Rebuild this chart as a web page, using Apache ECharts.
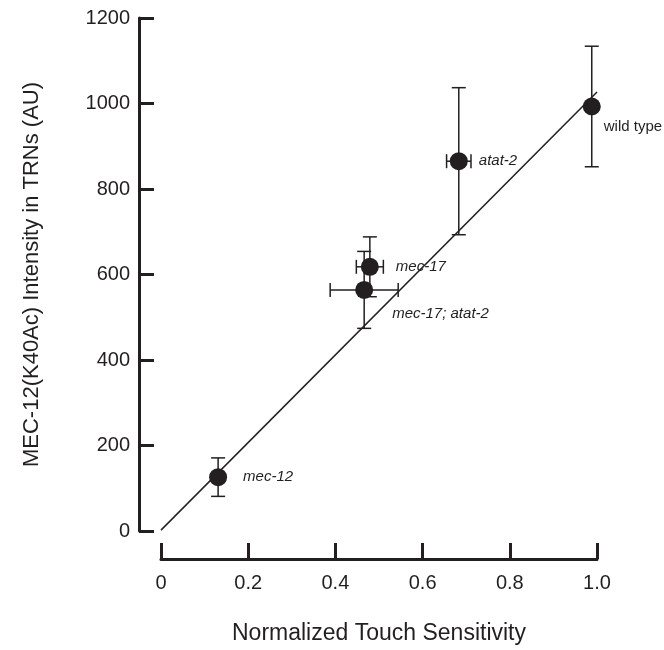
<!DOCTYPE html>
<html>
<head>
<meta charset="utf-8">
<script src="https://cdn.jsdelivr.net/npm/echarts@6/dist/echarts.min.js"></script>
<style>html,body{margin:0;padding:0;background:#fff;}#c{width:664px;height:650px;}</style>
</head>
<body>
<div id="c"></div>
<script>
// ---- data ----
const strainNames = ['mec-12', 'mec-17; atat-2', 'mec-17', 'atat-2', 'wild type'];
const touchSens   = [0.131, 0.466, 0.479, 0.683, 0.988];
const intensity   = [126, 564, 618, 865, 993];
const touchErr    = [0, 0.078, 0.031, 0.028, 0];
const intensityErr= [45, 90, 70, 172, 141];
const fitX = [0, 1.0];
const fitY = [2, 1027];
const xTicks = [0, 0.2, 0.4, 0.6, 0.8, 1.0];
const yTicks = [0, 200, 400, 600, 800, 1000, 1200];

// ---- styles (not data) ----
const labelOffsets = {
  'mec-12': [16, 0],
  'mec-17; atat-2': [19, 24],
  'mec-17': [17, 0],
  'atat-2': [11, 0],
  'wild type': [3, 20]
};
const italicNames = {'mec-12':1,'mec-17; atat-2':1,'mec-17':1,'atat-2':1};

const ink = '#231f20';
const chart = echarts.init(document.getElementById('c'), null, {renderer: 'canvas'});

const errData = strainNames.map((n, i) => [touchSens[i], intensity[i], touchErr[i], intensityErr[i]]);
const capHalf = 7;

const option = {
  animation: false,
  backgroundColor: '#fff',
  textStyle: {fontFamily: 'Liberation Sans, Arial, sans-serif'},
  grid: {left: 161, right: 67, top: 18, bottom: 117},
  xAxis: {
    type: 'value', min: xTicks[0], max: xTicks[xTicks.length - 1], interval: 0.2,
    offset: 28,
    name: 'Normalized Touch Sensitivity', nameLocation: 'middle', nameGap: 63,
    nameMoveOverlap: false,
    nameTextStyle: {fontSize: 23, color: ink, fontFamily: 'Liberation Sans'},
    axisLine: {show: true, onZero: false, lineStyle: {color: ink, width: 3}},
    axisTick: {show: true, inside: true, length: 16, lineStyle: {color: ink, width: 3}},
    axisLabel: {fontSize: 20, color: ink, margin: 14, fontFamily: 'Liberation Sans',
      formatter: v => (v === 0 ? '0' : v.toFixed(1))},
    splitLine: {show: false}
  },
  yAxis: {
    type: 'value', min: yTicks[0], max: yTicks[yTicks.length - 1], interval: 200,
    offset: 22,
    name: 'MEC-12(K40Ac) Intensity in TRNs (AU)', nameLocation: 'middle', nameGap: 96,
    nameMoveOverlap: false,
    nameTextStyle: {fontSize: 22, color: ink, fontFamily: 'Liberation Sans'},
    axisLine: {show: true, onZero: false, lineStyle: {color: ink, width: 3}},
    axisTick: {show: true, inside: true, length: 15, lineStyle: {color: ink, width: 3}},
    axisLabel: {fontSize: 20, color: ink, margin: 9, fontFamily: 'Liberation Sans',
      formatter: v => String(v)},
    splitLine: {show: false}
  },
  series: [
    {
      type: 'line',
      data: fitX.map((x, i) => [x, fitY[i]]),
      symbol: 'none',
      lineStyle: {color: ink, width: 1.5},
      z: 3
    },
    {
      type: 'custom',
      data: errData,
      renderItem: function (params, api) {
        const x = api.value(0), y = api.value(1), ex = api.value(2), ey = api.value(3);
        const children = [];
        const st = {stroke: ink, lineWidth: 1.5};
        if (ey > 0) {
          const top = api.coord([x, y + ey]);
          const bot = api.coord([x, y - ey]);
          children.push({type: 'line', shape: {x1: top[0], y1: top[1], x2: bot[0], y2: bot[1]}, style: st});
          children.push({type: 'line', shape: {x1: top[0] - capHalf, y1: top[1], x2: top[0] + capHalf, y2: top[1]}, style: st});
          children.push({type: 'line', shape: {x1: bot[0] - capHalf, y1: bot[1], x2: bot[0] + capHalf, y2: bot[1]}, style: st});
        }
        if (ex > 0) {
          const l = api.coord([x - ex, y]);
          const r = api.coord([x + ex, y]);
          children.push({type: 'line', shape: {x1: l[0], y1: l[1], x2: r[0], y2: r[1]}, style: st});
          children.push({type: 'line', shape: {x1: l[0], y1: l[1] - capHalf, x2: l[0], y2: l[1] + capHalf}, style: st});
          children.push({type: 'line', shape: {x1: r[0], y1: r[1] - capHalf, x2: r[0], y2: r[1] + capHalf}, style: st});
        }
        return {type: 'group', children: children};
      },
      z: 2
    },
    {
      type: 'scatter',
      symbol: 'circle',
      symbolSize: 18,
      itemStyle: {color: '#231f20', opacity: 1},
      data: strainNames.map((n, i) => ({
        name: n,
        value: [touchSens[i], intensity[i]],
        label: {
          show: true, position: 'right', distance: 0, offset: labelOffsets[n],
          formatter: '{b}', color: ink, fontSize: 15,
          fontStyle: italicNames[n] ? 'italic' : 'normal',
          fontFamily: 'Liberation Sans'
        }
      })),
      z: 4
    }
  ]
};
chart.setOption(option);
</script>
</body>
</html>
